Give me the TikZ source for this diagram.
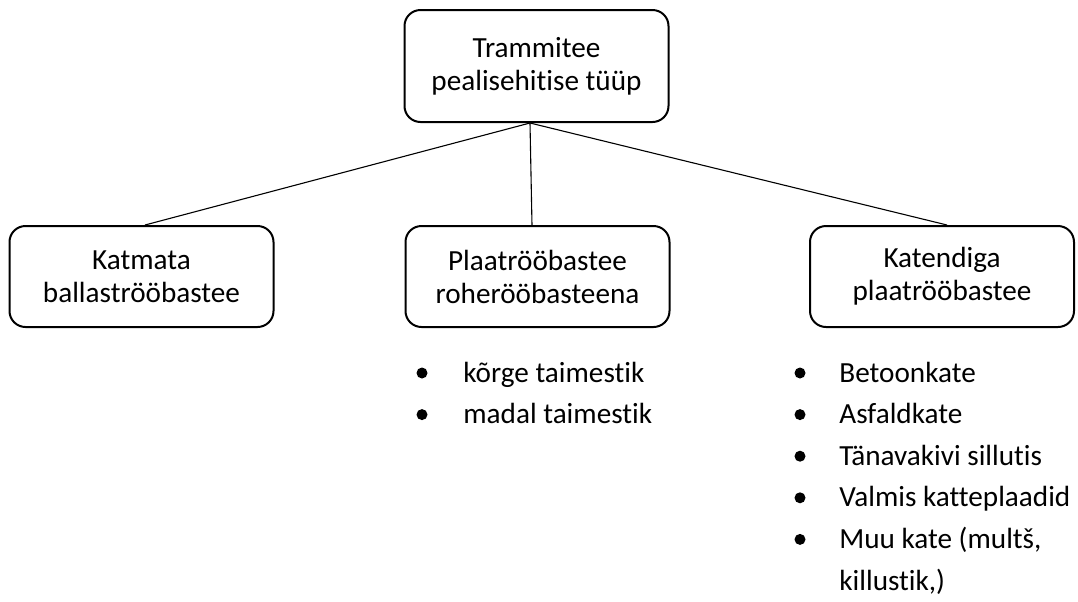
\documentclass[tikz,border=0pt]{standalone}
\usepackage{fontspec}
\setmainfont{Carlito}[Ligatures={NoCommon}, RawFeature={-liga}]
\usepackage{tikz}

\tikzset{
  catbox/.style={draw, line width=1pt, rounded corners=8pt, minimum width=132pt,
    minimum height=50.5pt, align=center, inner sep=2pt,
    font=\fontsize{14.6}{16.5}\selectfont},
  item/.style={anchor=base west, inner sep=0pt, font=\fontsize{14.6}{16}\selectfont},
  dot/.style={circle, fill, inner sep=0pt, minimum size=5.5pt},
  link/.style={line width=0.55pt}
}

\begin{document}
\begin{tikzpicture}[x=0.5pt, y=-0.5pt]
        \useasboundingbox (0,0) rectangle (1078,601);

        \node[catbox, minimum height=56pt] (top) at (536.5,66) {Trammitee\\pealisehitise tüüp};
        \node[catbox] (ballast) at (141.5,276.5) {Katmata\\ballaströöbastee};
        \node[catbox] (green) at (537.5,276.5) {Plaatrööbastee\\roherööbasteena};
        \node[catbox] (covered) at (942,276.5) {Katendiga\\plaatrööbastee};

        \coordinate (hub) at ([xshift=-3.25pt]top.south);
        \draw[link] (hub) -- ([xshift=1.75pt]ballast.north);
        \draw[link] (hub) -- ([xshift=-2.75pt]green.north);
        \draw[link] (hub) -- ([xshift=2.5pt]covered.north);

        % roherööbastee taimestik
        \node[dot] (gb1) at (422,373) {};
        \node[item] (gt1) at (463,382) {kõrge taimestik};
        \node[dot] (gb2) at (422,414.6) {};
        \node[item] (gt2) at (463,423.6) {madal taimestik};

        % katendi liigid
        \foreach \entry [count=\i] in {Betoonkate, Asfaldkate, Tänavakivi sillutis, Valmis katteplaadid, {Muu kate (multš,}} {
            \node[dot] (cb\i) at (800,{373+41.6*(\i-1)}) {};
            \node[item] (ct\i) at (839,{382+41.6*(\i-1)}) {\entry};
        }
        \node[item] (ct6) at (839,590) {killustik,)};
    \end{tikzpicture}
\end{document}
